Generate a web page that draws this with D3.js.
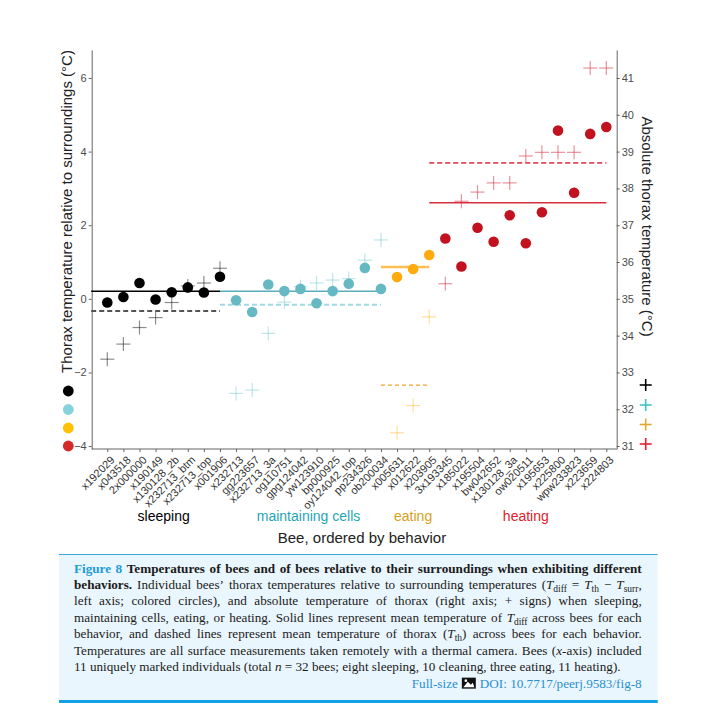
<!DOCTYPE html>
<html><head><meta charset="utf-8">
<script src="https://cdn.jsdelivr.net/npm/d3@7"></script>
<style>body{margin:0;background:#fff}</style>
</head><body>
<svg id="c" width="701" height="713"></svg>
<script>
// ---------------- data ----------------
const bees = ["x192029","x043518","2x000000","x190149","x130128_2b","x232713_btm","x232713_top","x001906",
  "x232713","gg223657","x232713_3a","og110751","gpg124042","yw123910","bp000925","oy124042_top","pp234326","ob200034",
  "x005631","x012622","x203905",
  "3x193345","x185022","x195504","bw042652","x130128_3a","ow020511","x195653","x225800","wpw233823","x223659","x224803"];
const groupNames = ["sleeping","maintaining cells","eating","heating"];
const groupSizes = [8,10,3,11];
// thorax temperature relative to surroundings (left axis, circles)
const tdiff = [-0.10,0.05,0.43,-0.02,0.18,0.31,0.17,0.60,
  -0.04,-0.36,0.39,0.21,0.27,-0.12,0.21,0.41,0.84,0.27,
  0.59,0.81,1.19,
  1.64,0.88,1.93,1.55,2.27,1.51,2.35,4.57,2.88,4.48,4.67];
// absolute thorax temperature (right axis, + signs)
const tth = [33.36,33.77,34.22,34.49,34.90,35.35,35.43,35.83,
  32.43,32.52,34.06,34.91,35.33,35.43,35.51,35.55,36.05,36.60,
  31.36,32.10,34.51,
  35.41,37.65,37.90,38.15,38.15,38.88,38.98,38.98,38.98,41.27,41.27];
const leftTicks = [-4,-2,0,2,4,6];
const rightTicks = [31,32,33,34,35,36,37,38,39,40,41];

// ---------------- styles ----------------
const sans = "'Liberation Sans', Arial, Helvetica, sans-serif";
const serif = "'Liberation Serif', 'Times New Roman', serif";
const dotCol = ["#000000","#66b8c3","#ffab0e","#c2121f"];
const crossCol = ["rgba(0,0,0,0.45)","rgba(100,195,205,0.42)","rgba(255,190,60,0.5)","rgba(215,40,60,0.5)"];
const solidCol = ["#000000","#5aaeb9","#ffbe55","#d62f3d"], solidW=[1.5,1.5,2.4,1.6];
const dashCol = ["#555555","#9fd9e1","#f0a030","#e04555"], dashW=[2,2,1.2,1.8], dashA=["5,3","5,3","4,3","5,3"];
const labelCol = ["#000000","#1fa5b5","#d9a020","#e0202a"];
const legDot = ["#000000","#87d2dc","#ffc107","#d42a2a"];
const legCross = ["#000000","#40c0c0","#e0a830","#e02030"];

const svg = d3.select("#c");
svg.append("rect").attr("width",701).attr("height",713).attr("fill","#fff");

const groupOf = [];
groupSizes.forEach((n,g)=>{for(let i=0;i<n;i++) groupOf.push(g);});

const x = d3.scalePoint().domain(bees).range([107.3,606.3]);
const yL = d3.scaleLinear().domain([-4.08,6.76]).range([449,50]);
const yR = d3.scaleLinear().domain([30.92,41.76]).range([449,50]);
const axL = 91.7, axR = 616.7, axB = 449;

// axes
const gL = svg.append("g").attr("transform",`translate(${axL},0)`)
  .call(d3.axisLeft(yL).tickValues(leftTicks).tickSize(3).tickSizeOuter(0).tickFormat(d3.format("d")));
const gR = svg.append("g").attr("transform",`translate(${axR},0)`)
  .call(d3.axisRight(yR).tickValues(rightTicks).tickSize(3).tickSizeOuter(0).tickFormat(d3.format("d")));
const gB = svg.append("g").attr("transform",`translate(0,${axB})`)
  .call(d3.axisBottom(x).tickSize(3).tickSizeOuter(0));
gB.select(".domain").remove();
svg.append("line").attr("x1",axL).attr("x2",axR).attr("y1",axB).attr("y2",axB).attr("stroke","#555").attr("stroke-width",0.9);
[gL,gR,gB].forEach(g=>{
  g.selectAll(".domain").attr("stroke","#555").attr("stroke-width",0.9);
  g.selectAll(".tick line").attr("stroke","#555").attr("stroke-width",0.9);
  g.selectAll("text").attr("font-family",sans).attr("font-size",11).attr("fill","#4d4d4d");
});
gL.selectAll("text").attr("x",-5);
gR.selectAll("text").attr("x",5);
gB.selectAll("text").attr("fill","#333")
  .attr("text-anchor","end").attr("y",0).attr("dy",0)
  .attr("transform","translate(2,6) rotate(-45)")
  .attr("dy","0.72em");

// crosses (absolute thorax temp, right axis)
const h = 7;
const cg = svg.append("g");
bees.forEach((b,i)=>{
  const cx = x(b), cy = yR(tth[i]), col = crossCol[groupOf[i]];
  cg.append("line").attr("x1",cx-h).attr("x2",cx+h).attr("y1",cy).attr("y2",cy).attr("stroke",col).attr("stroke-width",1.2);
  cg.append("line").attr("x1",cx).attr("x2",cx).attr("y1",cy-h).attr("y2",cy+h).attr("stroke",col).attr("stroke-width",1.2);
});

// mean lines
const step = x.step();
let start = 0;
groupSizes.forEach((n,g)=>{
  const idx = d3.range(start,start+n);
  const x1 = x(bees[start]) - step, x2 = x(bees[start+n-1]);
  const mD = d3.mean(idx, i=>tdiff[i]);
  const mT = d3.mean(idx, i=>tth[i]);
  svg.append("line").attr("x1",x1).attr("x2",x2).attr("y1",yR(mT)).attr("y2",yR(mT))
    .attr("stroke",dashCol[g]).attr("stroke-width",dashW[g]).attr("stroke-dasharray",dashA[g]);
  svg.append("line").attr("x1",x1).attr("x2",x2).attr("y1",yL(mD)).attr("y2",yL(mD))
    .attr("stroke",solidCol[g]).attr("stroke-width",solidW[g]);
  // group label
  svg.append("text").attr("x",d3.mean(idx,i=>x(bees[i]))).attr("y",521)
    .attr("text-anchor","middle").attr("font-family",sans).attr("font-size",14)
    .attr("fill",labelCol[g]).text(groupNames[g]);
  start += n;
});

// circles
svg.append("g").selectAll("circle").data(bees).join("circle")
  .attr("cx",d=>x(d)).attr("cy",(d,i)=>yL(tdiff[i])).attr("r",5.3)
  .attr("fill",(d,i)=>dotCol[groupOf[i]]);

// axis titles
svg.append("text").attr("transform","translate(72,211.5) rotate(-90)").attr("text-anchor","middle")
  .attr("font-family",sans).attr("font-size",15).attr("fill","#222")
  .text("Thorax temperature relative to surroundings (°C)");
svg.append("text").attr("transform","translate(641.5,226.5) rotate(90)").attr("text-anchor","middle")
  .attr("font-family",sans).attr("font-size",15).attr("fill","#222")
  .text("Absolute thorax temperature (°C)");
svg.append("text").attr("x",362).attr("y",543).attr("text-anchor","middle")
  .attr("font-family",sans).attr("font-size",15).attr("fill","#222").text("Bee, ordered by behavior");

// legends
const legDotY = [391,409.5,428,446];
legDot.forEach((c,k)=>svg.append("circle").attr("cx",68.3).attr("cy",legDotY[k]).attr("r",5.4).attr("fill",c));
const legCrossY = [385,405,424.5,444];
legCross.forEach((c,k)=>{
  const cx=645.7, cy=legCrossY[k], s=6;
  svg.append("line").attr("x1",cx-s).attr("x2",cx+s).attr("y1",cy).attr("y2",cy).attr("stroke",c).attr("stroke-width",1.6);
  svg.append("line").attr("x1",cx).attr("x2",cx).attr("y1",cy-s).attr("y2",cy+s).attr("stroke",c).attr("stroke-width",1.6);
});

// ---------------- caption ----------------
svg.append("rect").attr("x",59).attr("y",554).attr("width",598.7).attr("height",149).attr("fill","#eaf6fd");
svg.append("line").attr("x1",59).attr("x2",657.7).attr("y1",554.5).attr("y2",554.5).attr("stroke","#36a9e1").attr("stroke-width",1);
svg.append("rect").attr("x",59).attr("y",700).attr("width",598.7).attr("height",3).attr("fill","#12a0e6");

const capLines = [
  {j:true, runs:[["blue","Figure 8"],["b"," Temperatures of bees and of bees relative to their surroundings when exhibiting different"]]},
  {j:true, runs:[["b","behaviors."],["n"," Individual bees’ thorax temperatures relative to surrounding temperatures ("],["i","T"],["s","diff"],["n"," = "],["i","T"],["s","th"],["n"," − "],["i","T"],["s","surr"],["n",","]]},
  {j:true, runs:[["n","left axis; colored circles), and absolute temperature of thorax (right axis; + signs) when sleeping,"]]},
  {j:true, runs:[["n","maintaining cells, eating, or heating. Solid lines represent mean temperature of "],["i","T"],["s","diff"],["n"," across bees for each"]]},
  {j:true, runs:[["n","behavior, and dashed lines represent mean temperature of thorax ("],["i","T"],["s","th"],["n",") across bees for each behavior."]]},
  {j:true, runs:[["n","Temperatures are all surface measurements taken remotely with a thermal camera. Bees ("],["i","x"],["n","-axis) included"]]},
  {j:false, runs:[["n","11 uniquely marked individuals (total "],["i","n"],["n"," = 32 bees; eight sleeping, 10 cleaning, three eating, 11 heating)."]]}
];
const capLeft = 74, capRight = 641.7, capBase = 572.5, capLH = 16.45;

// determine font size from the unjustified line
const probe = svg.append("text").attr("font-family",serif).attr("font-size",13)
  .text(capLines[6].runs.map(r=>r[1]).join(""));
const fs = 13 * 547 / probe.node().getComputedTextLength();
probe.remove();

function toWords(runs){
  const words=[[]];
  runs.forEach(([st,t])=>{
    t.split(" ").forEach((p,k)=>{ if(k>0) words.push([]); if(p!=="") words[words.length-1].push([st,p]); });
  });
  return words.filter(w=>w.length);
}
function renderWord(g, word, y){
  const t = g.append("text").attr("y",y).attr("font-family",serif).attr("font-size",fs).attr("fill","#1a1a1a");
  let sub=false;
  word.forEach(([st,p])=>{
    const ts = t.append("tspan").text(p);
    if(st==="b") ts.attr("font-weight","bold");
    if(st==="blue") ts.attr("font-weight","bold").attr("fill","#1e9ad8");
    if(st==="i") ts.attr("font-style","italic");
    if(st==="s"){ ts.attr("font-size",fs*0.72).attr("dy",3); sub=true; }
    else if(sub){ ts.attr("dy",-3); sub=false; }
  });
  return t;
}
const cap = svg.append("g");
const spaceW = fs*0.25;
capLines.forEach((ln,k)=>{
  const y = capBase + k*capLH;
  const words = toWords(ln.runs);
  const els = words.map(w=>renderWord(cap,w,y));
  const ws = els.map(e=>e.node().getComputedTextLength());
  const tot = d3.sum(ws);
  const gap = ln.j ? (capRight-capLeft-tot)/(words.length-1) : spaceW;
  let cx = capLeft;
  els.forEach((e,i)=>{ e.attr("x",cx); cx += ws[i]+gap; });
});
// Full-size / DOI line
{
  const y = capBase + 7*capLH;
  const doi = cap.append("text").attr("y",y).attr("font-family",serif).attr("font-size",fs).attr("fill","#2a8fd0")
    .attr("text-anchor","end").attr("x",capRight).text("DOI: 10.7717/peerj.9583/fig-8");
  const dw = doi.node().getComputedTextLength();
  const ix = capRight - dw - 4 - 14;
  cap.append("rect").attr("x",ix).attr("y",y-10).attr("width",14).attr("height",11).attr("fill","#111");
  cap.append("path").attr("d",`M${ix+1.5},${y-0.5} L${ix+6},${y-6} L${ix+9},${y-3} L${ix+11},${y-5} L${ix+12.5},${y-0.5} Z`).attr("fill","#fff");
  cap.append("circle").attr("cx",ix+4).attr("cy",y-7).attr("r",1.3).attr("fill","#fff");
  cap.append("text").attr("y",y).attr("font-family",serif).attr("font-size",fs).attr("fill","#2a8fd0")
    .attr("text-anchor","end").attr("x",ix-4).text("Full-size");
}
</script>
</body></html>
